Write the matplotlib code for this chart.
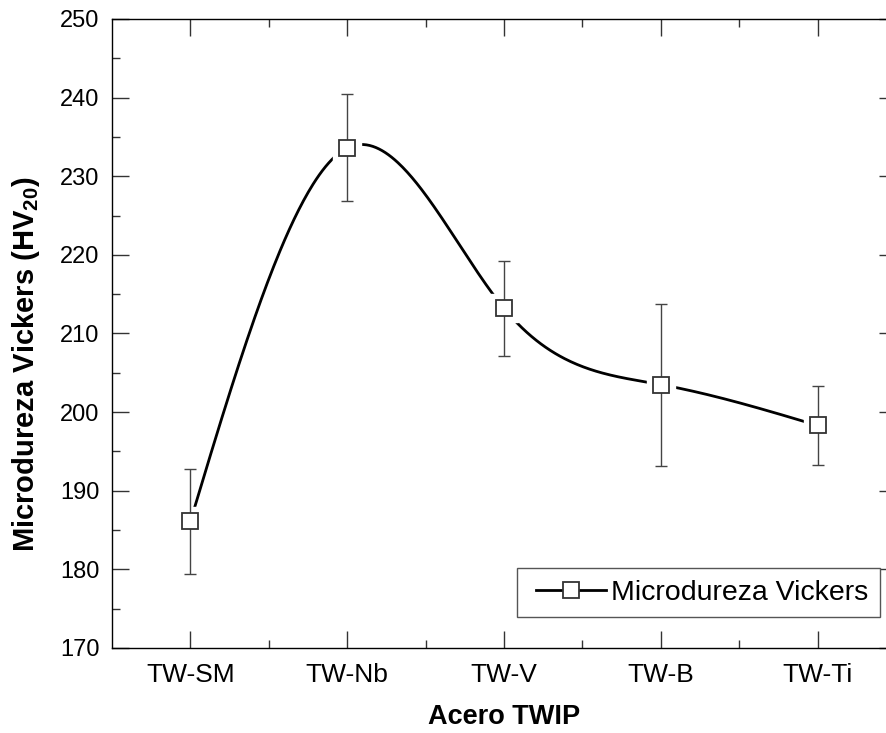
import numpy as np
import matplotlib
matplotlib.use("Agg")
import matplotlib.pyplot as plt
from matplotlib.ticker import MultipleLocator, FixedLocator
from matplotlib.legend_handler import HandlerLine2D

plt.rcParams['font.family'] = ['Liberation Sans', 'DejaVu Sans']
plt.rcParams['mathtext.fontset'] = 'custom'
plt.rcParams['mathtext.rm'] = 'Liberation Sans'
plt.rcParams['mathtext.bf'] = 'Liberation Sans:bold'

steels = ['TW-SM', 'TW-Nb', 'TW-V', 'TW-B', 'TW-Ti']
hv = [186.1, 233.6, 213.2, 203.5, 198.3]
hv_err = [6.7, 6.8, 6.0, 10.3, 5.0]


def natural_spline(x, y, n=400):
    # natural cubic spline, just for the smooth connecting line
    x = np.asarray(x, float)
    y = np.asarray(y, float)
    k = len(x)
    h = np.diff(x)
    A = np.zeros((k, k))
    b = np.zeros(k)
    A[0, 0] = A[-1, -1] = 1
    for i in range(1, k - 1):
        A[i, i - 1] = h[i - 1]
        A[i, i] = 2 * (h[i - 1] + h[i])
        A[i, i + 1] = h[i]
        b[i] = 3 * ((y[i + 1] - y[i]) / h[i] - (y[i] - y[i - 1]) / h[i - 1])
    c = np.linalg.solve(A, b)
    xs = np.linspace(x[0], x[-1], n)
    idx = np.clip(np.searchsorted(x, xs) - 1, 0, k - 2)
    dx = xs - x[idx]
    bb = (y[idx + 1] - y[idx]) / h[idx] - h[idx] * (2 * c[idx] + c[idx + 1]) / 3
    dd = (c[idx + 1] - c[idx]) / (3 * h[idx])
    ys = y[idx] + bb * dx + c[idx] * dx ** 2 + dd * dx ** 3
    return xs, ys


pos = np.arange(1, len(steels) + 1)

fig = plt.figure(figsize=(8.86, 7.33), dpi=100)
ax = fig.add_axes([112 / 886, 85 / 733, 784 / 886, 629 / 733])

xs, ys = natural_spline(pos, hv)
ax.plot(xs, ys, color='black', lw=2.0, zorder=1)
ax.plot(pos, hv, ls='none', marker='s', ms=20, mfc='white', mec='white', zorder=2)
ax.errorbar(pos, hv, yerr=hv_err, fmt='none', ecolor='#444444', elinewidth=1.0,
            capsize=4.5, capthick=1.0, zorder=3)
ax.plot(pos, hv, ls='none', marker='s', ms=12, mfc='white', mec='#333333', mew=1.3, zorder=4)

h = plt.Line2D([], [], color='black', lw=2.0, marker='s', ms=12, mfc='white',
               mec='#333333', mew=1.3)
leg = ax.legend([h], ['Microdureza Vickers'], loc='lower right',
                bbox_to_anchor=(768 / 784, 31 / 629), fontsize=20.5, fancybox=False,
                framealpha=1, edgecolor='#555555', borderpad=0.4, handlelength=2.73,
                handletextpad=0.18, borderaxespad=0,
                handler_map={h: HandlerLine2D(xpad=0.27)})
leg.get_frame().set_linewidth(1.0)

ax.set_xlim(0.5, 5.5)
ax.set_ylim(170, 250)
ax.xaxis.set_major_locator(FixedLocator(pos))
ax.xaxis.set_minor_locator(FixedLocator(pos[:-1] + 0.5))
ax.set_xticklabels(steels)
ax.yaxis.set_major_locator(MultipleLocator(10))
ax.yaxis.set_minor_locator(MultipleLocator(5))

ax.tick_params(which='both', direction='in', top=True, right=True, width=1.0, color='#333333')
ax.tick_params(which='major', length=12)
ax.tick_params(which='minor', length=6)
ax.tick_params(axis='x', labelsize=19, pad=11)
ax.tick_params(axis='y', labelsize=17, pad=9)
for s in ax.spines.values():
    s.set_linewidth(1.0)

ax.set_xlabel('Acero TWIP', fontsize=19.5, fontweight='bold', labelpad=12)
ax.set_ylabel(r'Microdureza Vickers (HV$_{\mathbf{20}}$)', fontsize=21,
              fontweight='bold')
ax.yaxis.set_label_coords(-70 / 784, (648 - 364) / 629)

fig.savefig('out.png', dpi=100)
